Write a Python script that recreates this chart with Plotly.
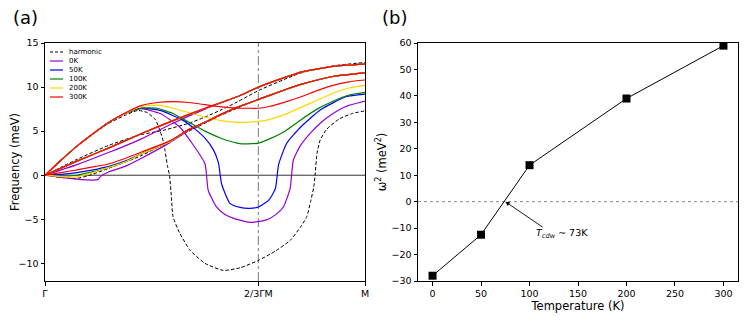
import plotly.graph_objects as go
from plotly.subplots import make_subplots

# ---- panel (a): phonon branches along Gamma -> M (q as fraction of GM) ----
# harmonic
harm_q_top = [0, 0.1, 0.2, 0.3, 0.37, 0.45, 0.5, 0.55, 0.6, 0.667, 0.75, 0.8, 0.9, 1.0]
harm_f_top = [0, 1.8, 3.4, 4.6, 5.1, 5.9, 6.6, 7.4, 8.3, 9.6, 10.9, 11.6, 12.4, 12.8]
harm_q_low = [0, 0.05, 0.1, 0.14, 0.2, 0.3, 0.375, 0.45, 0.55, 0.667, 0.8, 0.9, 1.0]
harm_f_low = [0, -0.25, -0.35, 0.0, 0.8, 2.2, 3.6, 5.0, 6.8, 8.6, 10.3, 11.2, 11.6]
harm_q_soft = [0, 0.05, 0.1, 0.15, 0.2, 0.25, 0.29, 0.32, 0.345, 0.36, 0.37, 0.375, 0.383,
               0.389, 0.395, 0.4, 0.42, 0.453, 0.5, 0.557, 0.61, 0.667, 0.72, 0.766, 0.8,
               0.818, 0.83, 0.84, 0.844, 0.85, 0.86, 0.88, 0.92, 0.96, 1.0]
harm_f_soft = [0, 1.7, 3.3, 4.7, 5.9, 6.8, 7.35, 7.1, 6.3, 5.0, 3.8, 2.8, 1.0,
               0.0, -2.5, -4.7, -6.5, -8.5, -10.0, -10.8, -10.5, -9.66, -8.6, -7.4, -5.8,
               -4.7, -3.0, -1.3, 0.0, 2.5, 4.0, 5.2, 6.4, 7.0, 7.3]

# anharmonic, shared acoustic branches (upper and middle)
mid_q = [0, 0.1, 0.2, 0.3, 0.4, 0.5, 0.6, 0.667, 0.75, 0.8, 0.9, 1.0]
mid_f = [0, 1.6, 3.1, 4.7, 6.2, 7.6, 8.9, 10.0, 11.1, 11.7, 12.35, 12.6]
mid_f_0k = [0, 1.2, 2.6, 4.1, 5.9, 7.5, 8.9, 10.0, 11.1, 11.7, 12.35, 12.6]
low_q = [0, 0.05, 0.1, 0.15, 0.165, 0.175, 0.2, 0.25, 0.3, 0.39, 0.45, 0.5, 0.55, 0.6,
         0.667, 0.75, 0.8, 0.9, 1.0]
low_f_0k = [0, -0.25, -0.45, -0.55, -0.5, -0.1, 0.4, 1.0, 1.9, 3.7, 5.1, 6.0, 6.9, 7.7,
            8.6, 9.7, 10.3, 11.2, 11.6]
low_f_50k = [0, 0.1, 0.3, 0.6, 0.7, 0.8, 1.0, 1.6, 2.4, 3.8, 5.2, 6.0, 6.9, 7.7,
             8.6, 9.7, 10.3, 11.2, 11.6]
low_f_100k = [0, -0.1, 0.0, 0.4, 0.5, 0.6, 0.9, 1.5, 2.4, 3.8, 5.2, 6.0, 6.9, 7.7,
              8.6, 9.7, 10.3, 11.2, 11.6]
low_f_200k = [0, -0.15, -0.2, 0.3, 0.45, 0.6, 0.9, 1.5, 2.4, 3.8, 5.2, 6.0, 6.9, 7.7,
              8.6, 9.7, 10.3, 11.2, 11.6]
low_f_300k = [0, 0.3, 0.6, 0.95, 1.05, 1.1, 1.3, 1.9, 2.6, 3.9, 5.2, 6.0, 6.9, 7.7,
              8.6, 9.7, 10.3, 11.2, 11.6]

# soft branch per temperature
soft_q_0k = [0, 0.05, 0.1, 0.15, 0.2, 0.25, 0.3, 0.36, 0.42, 0.46, 0.5, 0.51, 0.536, 0.56,
             0.59, 0.64, 0.69, 0.72, 0.745, 0.766, 0.776, 0.797, 0.83, 0.86, 0.9, 0.94, 1.0]
soft_f_0k = [0, 1.7, 3.3, 4.7, 6.0, 7.0, 7.55, 7.0, 5.5, 3.6, 1.3, -1.7, -3.6, -4.4,
             -4.9, -5.35, -5.1, -4.5, -3.6, -1.5, 1.7, 3.3, 4.8, 5.9, 7.0, 7.8, 8.4]
soft_q_50k = [0, 0.05, 0.1, 0.15, 0.2, 0.25, 0.3, 0.36, 0.43, 0.47, 0.5, 0.526, 0.542, 0.552,
              0.578, 0.61, 0.64, 0.667, 0.7, 0.72, 0.73, 0.755, 0.8, 0.86, 0.94, 1.0]
soft_f_50k = [0, 1.7, 3.3, 4.7, 6.0, 7.0, 7.6, 7.35, 6.25, 5.2, 4.2, 2.9, 1.4, -1.0,
              -3.2, -3.65, -3.75, -3.6, -2.8, -1.5, 1.2, 3.6, 5.5, 7.4, 8.9, 9.2]
soft_q = [0, 0.05, 0.1, 0.15, 0.2, 0.25, 0.3, 0.35, 0.4, 0.45, 0.5, 0.55, 0.6, 0.63,
          0.667, 0.7, 0.75, 0.8, 0.85, 0.9, 0.95, 1.0]
soft_f_100k = [0, 1.7, 3.3, 4.7, 6.0, 7.0, 7.6, 7.6, 7.0, 6.0, 5.0, 4.2, 3.65, 3.55,
               3.65, 4.1, 5.0, 6.3, 7.5, 8.4, 9.1, 9.4]
soft_f_200k = [0, 1.7, 3.3, 4.7, 6.0, 7.0, 7.8, 7.95, 7.6, 7.1, 6.6, 6.2, 6.0, 6.0,
               6.1, 6.3, 6.9, 7.7, 8.5, 9.3, 9.9, 10.2]
soft_f_300k = [0, 1.7, 3.3, 4.7, 6.0, 7.05, 7.9, 8.25, 8.35, 8.25, 8.0, 7.75, 7.6, 7.6,
               7.6, 7.8, 8.3, 8.9, 9.6, 10.2, 10.6, 10.8]

q_ticks = [0, 2 / 3, 1]
q_labels = ["Γ", "2/3ΓM", "M"]

legend_names = ["harmonic", "0K", "50K", "100K", "200K", "300K"]
legend_colors = ["black", "#9400D3", "#0000FF", "#008000", "#FFD700", "#FF0000"]

# ---- panel (b): soft-mode omega^2 vs temperature ----
temps = [0, 50, 100, 200, 300]
omega2 = [-28, -12.5, 13.8, 39, 59]

# page body has an 8px margin, so the figure is sized to fit inside the window
W, H, OFF = 731, 308, 8


def px_x(p):
    return (p - OFF) / W


def px_y(p):
    return 1 - (p - OFF) / H


fig = make_subplots(rows=1, cols=2)

tick_font = dict(family="DejaVu Sans", size=9.5, color="black")
title_font = dict(family="DejaVu Sans", size=11.5, color="black")
dash_style = "3.5px,2px"

fig.add_trace(go.Scatter(x=harm_q_top, y=harm_f_top, mode="lines",
                         line=dict(color="black", width=1, dash=dash_style, shape="spline", smoothing=0.6)), 1, 1)
fig.add_trace(go.Scatter(x=harm_q_low, y=harm_f_low, mode="lines",
                         line=dict(color="black", width=1, dash=dash_style, shape="spline", smoothing=0.6)), 1, 1)
fig.add_trace(go.Scatter(x=harm_q_soft, y=harm_f_soft, mode="lines",
                         line=dict(color="black", width=1, dash=dash_style, shape="spline", smoothing=0.5)), 1, 1)

series = [
    (legend_colors[1], mid_f_0k, low_f_0k, soft_q_0k, soft_f_0k),
    (legend_colors[2], mid_f, low_f_50k, soft_q_50k, soft_f_50k),
    (legend_colors[3], mid_f, low_f_100k, soft_q, soft_f_100k),
    (legend_colors[4], mid_f, low_f_200k, soft_q, soft_f_200k),
    (legend_colors[5], mid_f, low_f_300k, soft_q, soft_f_300k),
]
for col, mf, lf, sq, sf in series:
    ln = dict(color=col, width=1.2, shape="spline", smoothing=0.5)
    fig.add_trace(go.Scatter(x=sq, y=sf, mode="lines", line=ln), 1, 1)
    fig.add_trace(go.Scatter(x=mid_q, y=mf, mode="lines", line=ln), 1, 1)
    fig.add_trace(go.Scatter(x=low_q, y=lf, mode="lines", line=ln), 1, 1)

fig.add_trace(go.Scatter(x=temps, y=omega2, mode="lines+markers",
                         line=dict(color="black", width=1),
                         marker=dict(symbol="square", size=8, color="black")), 1, 2)

# reference lines
fig.add_shape(type="line", xref="x", yref="y", x0=0, x1=1, y0=0, y1=0,
              line=dict(color="black", width=0.8), layer="below")
fig.add_shape(type="line", xref="x", yref="y", x0=2 / 3, x1=2 / 3, y0=-12, y1=15,
              line=dict(color="#555555", width=0.8, dash="dashdot"), layer="below")
fig.add_shape(type="line", xref="x2", yref="y2", x0=-15, x1=315, y0=0, y1=0,
              line=dict(color="#888888", width=1, dash="dot"), layer="below")

# compact legend drawn by hand (matplotlib-like spacing)
for i, (nm, col) in enumerate(zip(legend_names, legend_colors)):
    yy = px_y(52 + 9 * i)
    fig.add_shape(type="line", xref="paper", yref="paper", x0=px_x(50), x1=px_x(63), y0=yy, y1=yy,
                  line=dict(color=col, width=1.2, dash="3px,2px" if i == 0 else "solid"))
    fig.add_annotation(x=px_x(67), y=yy, xref="paper", yref="paper", text=nm, showarrow=False,
                       xanchor="left", yanchor="middle",
                       font=dict(family="DejaVu Sans", size=7, color="black"))

# Tcdw annotation
fig.add_annotation(x=75, y=0, ax=115, ay=-10, xref="x2", yref="y2", axref="x2", ayref="y2",
                   text="", showarrow=True, arrowhead=2, arrowsize=1, arrowwidth=0.9,
                   arrowcolor="black")
fig.add_annotation(x=133, y=-12.2, xref="x2", yref="y2", showarrow=False,
                   text="<i>T</i><sub><i>cdw</i></sub> ~ 73K", font=tick_font)

# panel letters
fig.add_annotation(x=px_x(11), y=px_y(17.5), xref="paper", yref="paper", text="(a)", showarrow=False,
                   xanchor="left", yanchor="middle", font=dict(family="DejaVu Sans", size=18, color="black"))
fig.add_annotation(x=px_x(380), y=px_y(17.5), xref="paper", yref="paper", text="(b)", showarrow=False,
                   xanchor="left", yanchor="middle", font=dict(family="DejaVu Sans", size=18, color="black"))

axis_common = dict(showline=True, linecolor="black", linewidth=1, mirror=True, ticks="outside",
                   ticklen=3.5, tickcolor="black", showgrid=False, zeroline=False, tickfont=tick_font,
                   automargin=False)

ydom = [px_y(281), px_y(43)]
fig.update_xaxes(domain=[px_x(45), px_x(365)], range=[0, 1], tickvals=q_ticks, ticktext=q_labels,
                 row=1, col=1, **axis_common)
fig.update_yaxes(domain=ydom, range=[-12, 15], tickvals=[-10, -5, 0, 5, 10, 15],
                 title=dict(text="Frequency (meV)", font=title_font, standoff=4), row=1, col=1, **axis_common)
fig.update_xaxes(domain=[px_x(418), px_x(738)], range=[-15, 315], tickvals=[0, 50, 100, 150, 200, 250, 300],
                 title=dict(text="Temperature (K)", font=title_font, standoff=2), row=1, col=2, **axis_common)
fig.update_yaxes(domain=ydom, range=[-30, 60], tickvals=list(range(-30, 61, 10)),
                 title=dict(text="ω<sup>2</sup> (meV<sup>2</sup>)", font=title_font, standoff=2),
                 row=1, col=2, **axis_common)

fig.update_layout(
    width=W, height=H,
    margin=dict(l=0, r=0, t=0, b=0, autoexpand=False),
    plot_bgcolor="white", paper_bgcolor="white",
    font=dict(family="DejaVu Sans", color="black"),
    showlegend=False,
)

fig.write_html("out.html")
